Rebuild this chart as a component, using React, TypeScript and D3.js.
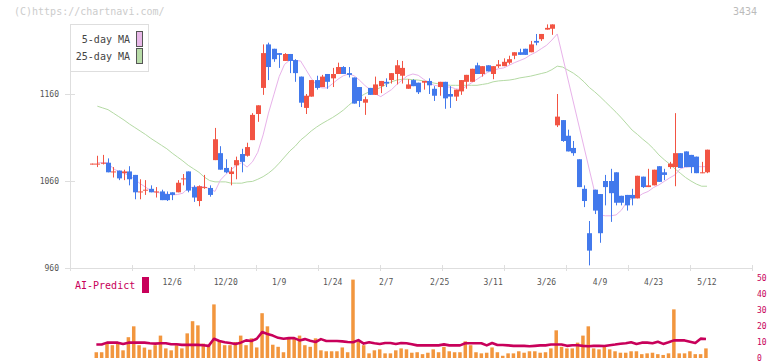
import React from 'react';
import * as d3 from 'd3';

// daily candles, oldest first (index 0 .. 115)
const opens = [
  1079, 1079, 1080, 1081, 1070, 1072, 1069, 1071, 1067, 1047,
  1049, 1051, 1047, 1048, 1045, 1047, 1047, 1062, 1071, 1053,
  1037, 1052, 1052, 1084, 1092, 1075, 1068, 1078, 1091, 1089,
  1107, 1137, 1167, 1217, 1212, 1207, 1198, 1206, 1199, 1180,
  1144, 1157, 1176, 1168, 1183, 1178, 1183, 1191, 1184, 1179,
  1168, 1150, 1167, 1159, 1169, 1174, 1176, 1183, 1181, 1166,
  1176, 1173, 1173, 1175, 1166, 1168, 1174, 1160, 1157, 1163,
  1174, 1174, 1193, 1183, 1193, 1183, 1192, 1192, 1196, 1204,
  1208, 1212, 1208, 1221, 1223, 1234, 1235, 1124, 1130, 1112,
  1098, 1085, 1051, 1000, 1050, 1045, 1060, 1060, 1070, 1043,
  1044, 1044, 1040, 1065, 1053, 1055, 1077, 1070, 1076, 1076,
  1092, 1094, 1090, 1088, 1069, 1070,
];
const highs = [
  1080, 1089, 1090, 1086, 1076, 1072, 1073, 1077, 1067, 1062,
  1061, 1055, 1053, 1050, 1048, 1047, 1061, 1068, 1071, 1055,
  1055, 1067, 1055, 1121, 1100, 1085, 1076, 1088, 1097, 1104,
  1138, 1147, 1217, 1219, 1212, 1207, 1207, 1206, 1200, 1180,
  1160, 1176, 1181, 1182, 1183, 1190, 1196, 1192, 1191, 1179,
  1168, 1157, 1167, 1180, 1175, 1178, 1184, 1199, 1198, 1177,
  1177, 1173, 1175, 1178, 1169, 1174, 1174, 1169, 1165, 1176,
  1182, 1189, 1196, 1192, 1193, 1192, 1199, 1201, 1204, 1208,
  1212, 1212, 1221, 1229, 1229, 1240, 1240, 1160, 1130, 1119,
  1106, 1085, 1055, 1014, 1050, 1045, 1067, 1074, 1070, 1043,
  1044, 1051, 1066, 1065, 1074, 1073, 1077, 1074, 1082, 1138,
  1092, 1094, 1090, 1088, 1082, 1096,
];
const lows = [
  1079, 1076, 1079, 1070, 1064, 1061, 1061, 1055, 1039, 1039,
  1044, 1047, 1041, 1038, 1037, 1038, 1047, 1055, 1047, 1036,
  1031, 1051, 1042, 1084, 1073, 1069, 1055, 1062, 1070, 1088,
  1107, 1128, 1159, 1176, 1197, 1190, 1198, 1184, 1174, 1145,
  1137, 1157, 1165, 1168, 1166, 1168, 1183, 1183, 1179, 1149,
  1145, 1136, 1159, 1159, 1161, 1168, 1172, 1171, 1172, 1166,
  1169, 1160, 1165, 1160, 1152, 1158, 1143, 1144, 1152, 1159,
  1166, 1174, 1183, 1180, 1186, 1177, 1190, 1192, 1194, 1200,
  1205, 1205, 1208, 1216, 1221, 1234, 1228, 1122, 1105, 1094,
  1089, 1053, 1030, 963, 1022, 989, 1032, 1013, 1032, 1032,
  1026, 1032, 1040, 1052, 1053, 1055, 1059, 1061, 1074, 1054,
  1075, 1076, 1069, 1069, 1069, 1069,
];
const closes = [
  1080, 1080, 1081, 1070, 1071, 1063, 1071, 1062, 1047, 1048,
  1050, 1047, 1048, 1038, 1038, 1044, 1058, 1063, 1049, 1041,
  1054, 1053, 1044, 1108, 1073, 1070, 1071, 1084, 1082, 1099,
  1136, 1147, 1207, 1191, 1200, 1205, 1206, 1198, 1184, 1150,
  1158, 1176, 1167, 1180, 1174, 1183, 1191, 1183, 1182, 1149,
  1152, 1154, 1159, 1171, 1175, 1172, 1184, 1193, 1190, 1171,
  1169, 1162, 1175, 1170, 1158, 1174, 1155, 1157, 1165, 1176,
  1182, 1189, 1183, 1192, 1186, 1192, 1194, 1197, 1200, 1208,
  1205, 1205, 1217, 1219, 1229, 1236, 1240, 1134, 1106, 1094,
  1092, 1053, 1037, 980, 1026, 1000, 1053, 1046, 1035, 1035,
  1032, 1040, 1066, 1053, 1055, 1073, 1059, 1067, 1080, 1092,
  1075, 1076, 1076, 1069, 1070, 1096,
];

// moving averages (null = no point drawn there)
const ma5 = [
  null, 1081, 1081, 1081, 1074, 1071, 1069, 1066, 1062, 1057,
  1053, 1049, 1047, 1046, 1045, 1044, 1044.5, 1046, 1052, 1053,
  1053.5, 1053.5, 1051, 1048, 1061, 1067.5, 1073, 1078, 1081, 1076,
  1082, 1093, 1113, 1138, 1159, 1180, 1194, 1199, 1198.5, 1198,
  1188, 1178, 1170, 1167, 1167, 1172, 1177, 1181, 1183, 1181,
  1176, 1170, 1165, 1160, 1157, 1161, 1165, 1171, 1176, 1181,
  1183, 1181.5, 1177, 1173, 1170, 1169, 1168, 1168, 1166, 1165,
  1169, 1173, 1177, 1181, 1185, 1187, 1189, 1190, 1193, 1196,
  1198.5, 1201, 1205, 1208, 1212, 1216, 1222, 1229, null, null,
  null, null, null, null, null, 1021, 1020, 1020, 1021, 1026.5,
  1036, 1040, 1041.5, 1045.5, 1048, 1052.5, 1055.5, 1059.5, 1063.5, 1067,
  1074, 1076, 1076.5, 1076.5, 1076.5, 1076.5,
];
const ma25 = [
  null, 1146, 1144, 1142, 1138, 1134, 1130, 1125.5, 1121.5, 1117.5,
  1113.5, 1109, 1105, 1101, 1097, 1092, 1087.5, 1083, 1078, 1074,
  1070, 1064.5, 1060.5, 1059, 1059, 1059, 1057.5, 1057.5, 1057.5, 1059,
  1059.5, 1062, 1065, 1069, 1074, 1080.5, 1087.5, 1094.5, 1100, 1107,
  1112, 1117.5, 1122, 1126, 1129.5, 1133, 1137, 1141.5, 1147, 1152,
  1156.5, 1160, 1163, 1165, 1167.5, 1171, 1174, 1176, 1177, 1177,
  1176.5, 1176, 1175, 1174, 1172.5, 1171.5, 1170.5, 1170, 1170, 1170,
  1170, 1170, 1170, 1171, 1172, 1174, 1175, 1175.5, 1176, 1177,
  1178.5, 1179.5, 1180.5, 1182, 1183.5, 1185, 1188, 1192, 1191, 1187.5,
  1184, 1179.5, 1174, 1167.5, 1162.5, 1157, 1151, 1145, 1139, 1132.5,
  1125.5, 1118.5, 1113.5, 1108, 1103, 1097, 1090, 1084.5, 1079.5, 1074,
  1069, 1064, 1060, 1056.5, 1054, 1054,
];

// lower panel
const volumes = [
  null, 3.6, 3.6, 9, 8, 9, 4.8, 13, 19.8, 8,
  6.5, 5.2, 8, 14, 6, 4.8, 8, 6, 15.4, 23,
  20.4, 9, 8, 33.5, 10.4, 8, 8, 10, 14, 8,
  12.3, 6.6, 28, 19.8, 8.3, 7, 3.6, 12.3, 12.3, 14,
  8, 7, 12.3, 4.8, 4.2, 4.2, 4.2, 6.6, 3.6, 49,
  10.4, 8, 2.9, 4.8, 5.4, 2.9, 2.9, 4.8, 6, 5.4,
  3.3, 3.6, 2.4, 3.3, 5.4, 3.6, 7, 4.2, 3.6, 3.6,
  10.4, 8, 3.6, 2.9, 3.3, 6.6, 3.6, 1.4, 2.9, 2.9,
  4.2, 3.3, 4.2, 4.2, 3.3, 3.6, 6, 17.3, 7, 6,
  6, 9.6, 14, 19.8, 6, 5.4, 7, 5.4, 4.2, 3.3,
  3.3, 4.2, 4.2, 2.4, 2.9, 3.3, 2.4, 1.9, 2.9, 30.4,
  2.9, 2.9, 4.2, 2.4, 2.4, 6,
];
const aiPredict = [
  null, 8.4, 8.4, 9.6, 9.6, 9.6, 8.8, 9.6, 9.6, 9.6,
  9.6, 9.2, 9.0, 9.2, 9.2, 8.6, 8.6, 8.2, 8.2, 8.2,
  8.2, 8.0, 7.6, 12.0, 10.6, 9.8, 9.4, 8.8, 9.6, 11.0,
  10.6, 12.0, 16.2, 15.0, 14.0, 12.6, 12.0, 12.4, 12.4, 11.0,
  11.8, 10.8, 10.0, 11.8, 10.6, 10.6, 10.6, 10.4, 10.0, 9.8,
  11.2, 9.0, 9.8, 9.2, 8.8, 9.4, 9.4, 8.8, 9.4, 9.2,
  8.6, 7.9, 7.9, 7.9, 7.9, 7.9, 8.5, 7.9, 7.9, 7.9,
  9.2, 9.2, 9.2, 9.2, 7.9, 9.4, 8.1, 8.1, 7.9, 7.6,
  7.6, 7.6, 7.3, 7.6, 7.9, 7.9, 8.4, 8.4, 8.4, 7.6,
  8.0, 8.0, 7.6, 7.3, 7.6, 7.6, 7.5, 8.0, 8.4, 8.9,
  9.2, 9.8, 8.8, 9.6, 9.6, 9.2, 10.2, 8.8, 9.8, 11.0,
  11.0, 11.0, 10.2, 9.4, 12.1, 11.9,
];

const dateLabels = ['12/6', '12/20', '1/9', '1/24', '2/7', '2/25', '3/11', '3/26', '4/9', '4/23', '5/12'];
const dateIndex = [15, 25, 35, 45, 55, 65, 75, 85, 95, 105, 115];
const priceTicks = [960, 1060, 1160];
const volTicks = [0, 10, 20, 30, 40, 50];

const RED = '#f25443';
const BLUE = '#4279ec';
const MAGENTA = '#c8005a';
const AXIS = '#dedede';
const FONT = '"DejaVu Sans Mono", monospace';

const W = 772;
const H = 361;

export default function App() {
  const x = d3.scaleLinear().domain([0, opens.length - 1]).range([92, 707]);
  const y = d3.scaleLinear().domain([960, 1160]).range([268, 94]);
  const v = d3.scaleLinear().domain([0, 50]).range([358, 278]);
  const grid = d3.scaleLinear().domain([0, 11]).range([70, 752]);

  const pts = (arr: (number | null)[]) =>
    arr.map((d, i) => [i, d] as [number, number | null]).filter((d) => d[1] != null) as [number, number][];

  const priceLine = d3
    .line<[number, number]>()
    .x((d) => x(d[0]))
    .y((d) => y(d[1]));
  const aiLine = d3
    .line<[number, number]>()
    .x((d) => x(d[0]) - 1)
    .y((d) => v(d[1]));

  const bodyW = 5;

  return (
    <svg width={W} height={H} style={{ position: 'absolute', left: 0, top: 0 }} fontFamily={FONT}>
      <rect width={W} height={H} fill="#fff" />

      <text x={14} y={12} fontSize={10} fill="#ccc" dominantBaseline="middle">
        (C)https://chartnavi.com/
      </text>
      <text x={757} y={12} fontSize={10} fill="#bbb" textAnchor="end" dominantBaseline="middle">
        3434
      </text>

      {/* axes */}
      <line x1={70.5} x2={70.5} y1={24} y2={268} stroke={AXIS} />
      <line x1={70} x2={752} y1={268.5} y2={268.5} stroke={AXIS} />
      {grid.ticks(11).map((t) => (
        <line key={t} x1={Math.round(grid(t)) + 0.5} x2={Math.round(grid(t)) + 0.5} y1={265} y2={271} stroke={AXIS} />
      ))}
      {priceTicks.map((t) => (
        <g key={t}>
          <line x1={65} x2={75} y1={Math.round(y(t)) + 0.5} y2={Math.round(y(t)) + 0.5} stroke={AXIS} />
          <text x={59} y={y(t)} fontSize={8} fill="#555" textAnchor="end" dominantBaseline="middle">
            {t}
          </text>
        </g>
      ))}
      {dateLabels.map((l, k) => (
        <text key={l} x={x(dateIndex[k])} y={282} fontSize={8} fill="#555" textAnchor="middle" dominantBaseline="middle">
          {l}
        </text>
      ))}

      {/* moving averages */}
      <path d={priceLine(pts(ma25)) || ''} fill="none" stroke="#b4daa4" strokeWidth={1} />
      <path d={priceLine(pts(ma5)) || ''} fill="none" stroke="#e8b2ea" strokeWidth={1} />

      {/* candles */}
      {opens.map((o, i) => {
        const c = closes[i];
        const col = c >= o ? RED : BLUE;
        const cx = Math.round(x(i));
        const top = Math.min(y(o), y(c));
        const h = Math.max(1, Math.abs(y(o) - y(c)));
        return (
          <g key={i}>
            <line x1={cx + 0.5} x2={cx + 0.5} y1={y(highs[i])} y2={y(lows[i])} stroke={col} />
            <rect x={cx - 2} y={top} width={bodyW} height={h} fill={col} />
          </g>
        );
      })}

      {/* legend */}
      <rect x={70.5} y={24.5} width={78} height={47} fill="#fff" stroke={AXIS} />
      <text x={130} y={40} fontSize={10} fill="#444" textAnchor="end" dominantBaseline="middle">
        5-day MA
      </text>
      <text x={130} y={57} fontSize={10} fill="#444" textAnchor="end" dominantBaseline="middle">
        25-day MA
      </text>
      <rect x={136.5} y={31.5} width={6} height={15} fill="#e8b8e8" stroke="#555" />
      <rect x={136.5} y={48.5} width={6} height={15} fill="#b8dca8" stroke="#555" />

      {/* lower panel */}
      <text x={75} y={286} fontSize={10} fill={MAGENTA} dominantBaseline="middle">
        AI-Predict
      </text>
      <rect x={142} y={277} width={7} height={16} fill={MAGENTA} />
      {volTicks.map((t) => (
        <text key={t} x={757} y={v(t)} fontSize={8} fill={MAGENTA} dominantBaseline="middle">
          {t}
        </text>
      ))}
      {volumes.map((d, i) =>
        d == null ? null : (
          <rect key={i} x={x(i) - 2.8} y={v(d)} width={3.5} height={358 - v(d)} fill="#f2963e" />
        )
      )}
      <path d={aiLine(pts(aiPredict)) || ''} fill="none" stroke={MAGENTA} strokeWidth={2.6} strokeLinejoin="round" />
    </svg>
  );
}
